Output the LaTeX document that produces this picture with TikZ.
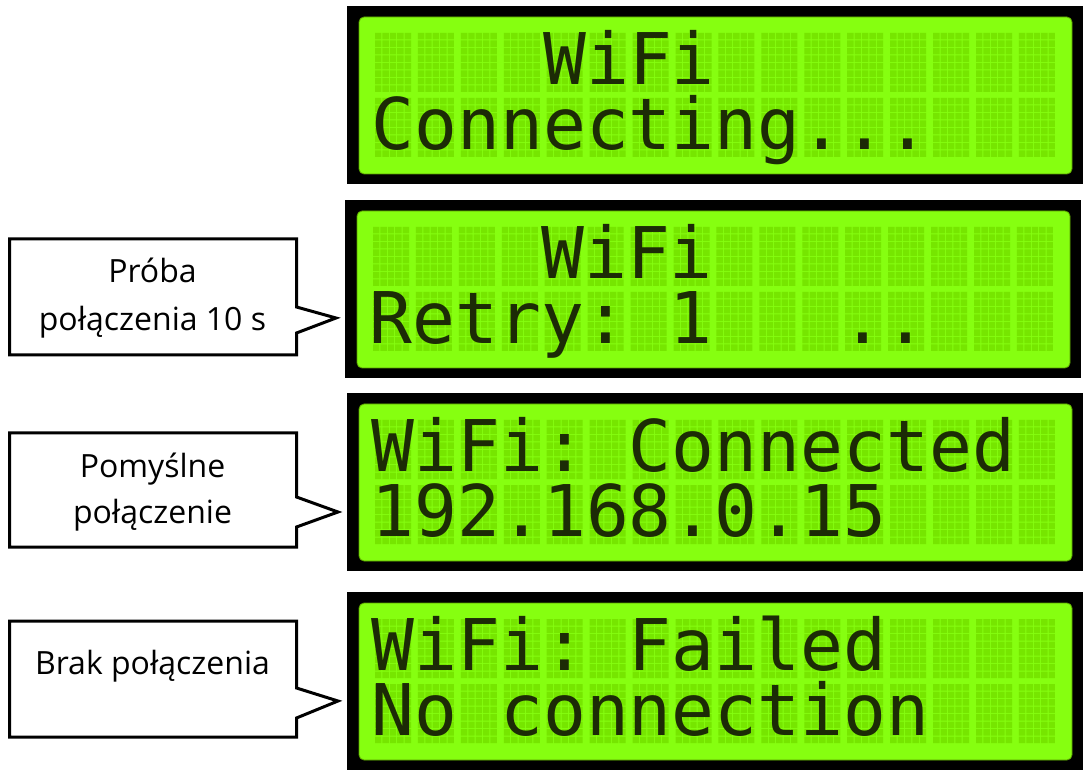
\documentclass[tikz,border=0pt]{standalone}
\usepackage{fontspec}
\setmainfont{Open Sans}
\newfontfamily\lcdfont{DejaVu Sans Mono}
\usetikzlibrary{calc}
\definecolor{lcdbg}{HTML}{86FF10}
\definecolor{lcddim}{HTML}{76E600}
\definecolor{lcdink}{HTML}{1C2B06}
\definecolor{lcdedge}{HTML}{5A9E00}
\newcommand{\drawlcd}[3]{%
  \node[lcdframe, anchor=north west] (#1) at (#2,#3) {};
  \path[lcdglass] ({#2+12},{#3+11}) rectangle ({#2+725},{#3+168});
  \fill[lcddim] \foreach \c in {0,...,15}{\foreach \r in {0,1}{\foreach \i in {0,...,4}{\foreach \j in {0,...,7}{ ({#2+28+\c*42.93+\i*7.4},{#3+27+\r*65+\j*7.5}) rectangle ++(6.4,6.5) }}}};
}
\newcommand{\lcdrow}[6]{%
  \node[lcdtext] (#1) at ({#2+28+#5*42.93-3.47},{#3+27+#4*65+51.5}) {#6};
}
\begin{document}
\begin{tikzpicture}[x=1pt,y=-1pt,
  lcdframe/.style={rectangle, fill=black, minimum width=736pt, minimum height=178pt, inner sep=0pt, outer sep=0pt},
  lcdglass/.style={fill=lcdbg, draw=lcdedge, line width=0.8pt, rounded corners=5pt},
  lcdtext/.style={anchor=base west, inner sep=0pt, outer sep=0pt, text=lcdink,
    font=\lcdfont\fontsize{71.26}{71.26}\selectfont\frenchspacing},
  calloutbox/.style={rectangle, minimum width=287pt, inner sep=0pt, outer sep=0pt},
  calloutline/.style={draw=black, line width=3pt, line join=miter, fill=white},
  callouttext/.style={anchor=base, inner sep=0pt, font=\fontsize{32}{32}\selectfont}]
\fill[white] (0,0) rectangle (1090,775);
\useasboundingbox (0,0) rectangle (1090,775);

% LCD panels
\drawlcd{lcda}{347}{6}
\lcdrow{lcdaA}{347}{6}{0}{4}{WiFi}
\lcdrow{lcdaB}{347}{6}{1}{0}{Connecting...}

\drawlcd{lcdb}{345}{200}
\lcdrow{lcdbA}{345}{200}{0}{4}{WiFi}
\lcdrow{lcdbB}{345}{200}{1}{0}{Retry: 1~~~..}

\drawlcd{lcdc}{347}{393}
\lcdrow{lcdcA}{347}{393}{0}{0}{WiFi: Connected}
\lcdrow{lcdcB}{347}{393}{1}{0}{192.168.0.15}

\drawlcd{lcdd}{347}{592}
\lcdrow{lcddA}{347}{592}{0}{0}{WiFi: Failed}
\lcdrow{lcddB}{347}{592}{1}{0}{No connection}

% callouts
\node[calloutbox, minimum height=116pt, anchor=north west] (ca) at (9.5,239) {};
\coordinate (pa) at (336,318);
\draw[calloutline] (ca.north west) -- (ca.north east) -- ($(ca.north east)+(0,68)$) -- (pa)
  -- ($(ca.north east)+(0,94)$) -- (ca.south east) -- (ca.south west) -- cycle;
\node[callouttext] (caA) at (152.5,283) {Próba};
\node[callouttext] (caB) at (152.5,331) {połączenia 10 s};

\node[calloutbox, minimum height=114pt, anchor=north west] (cb) at (9.5,433) {};
\coordinate (pb) at (338,512);
\draw[calloutline] (cb.north west) -- (cb.north east) -- ($(cb.north east)+(0,64)$) -- (pb)
  -- ($(cb.north east)+(0,94)$) -- (cb.south east) -- (cb.south west) -- cycle;
\node[callouttext] (cbA) at (152.5,477) {Pomyślne};
\node[callouttext] (cbB) at (152.5,523) {połączenie};

\node[calloutbox, minimum height=116pt, anchor=north west] (cc) at (9.5,621) {};
\coordinate (pc) at (338,701);
\draw[calloutline] (cc.north west) -- (cc.north east) -- ($(cc.north east)+(0,67)$) -- (pc)
  -- ($(cc.north east)+(0,97)$) -- (cc.south east) -- (cc.south west) -- cycle;
\node[callouttext] (ccA) at (152.5,674) {Brak połączenia};
\end{tikzpicture}
\end{document}
